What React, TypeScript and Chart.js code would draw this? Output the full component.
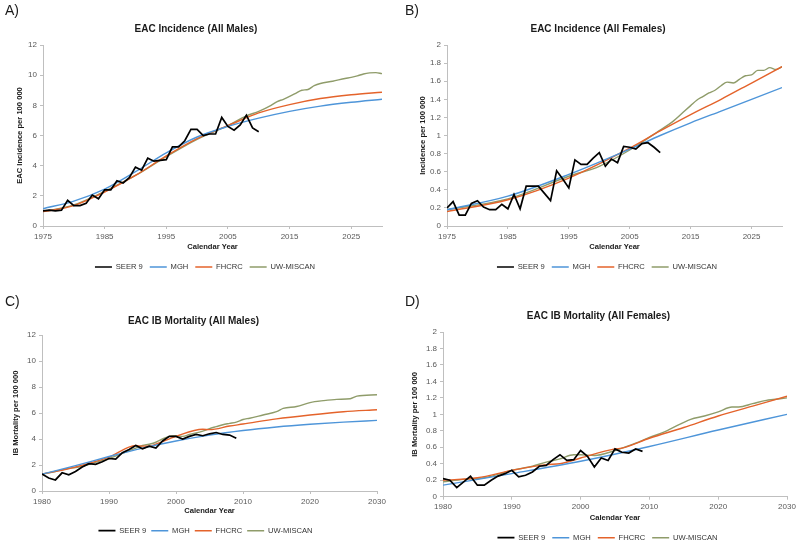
import React, { useEffect, useRef } from "react";
import { Chart, registerables } from "chart.js";

Chart.register(...registerables);

const FONT = "'Liberation Sans', Arial, Helvetica, sans-serif";
const SERIES_NAMES = ["SEER 9", "MGH", "FHCRC", "UW-MISCAN"];
const SERIES_COLORS = ["#000000", "#4e95d9", "#e4632b", "#8f9c6a"];
const X_TITLE = "Calendar Year";

// ---------- Panel A: EAC Incidence (All Males) ----------
const seerYearsA = [1975, 1976, 1977, 1978, 1979, 1980, 1981, 1982, 1983, 1984, 1985, 1986, 1987, 1988, 1989, 1990, 1991, 1992, 1993, 1994, 1995, 1996, 1997, 1998, 1999, 2000, 2001, 2002, 2003, 2004, 2005, 2006, 2007, 2008, 2009, 2010];
const seerA = [1.0, 1.05, 1.0, 1.05, 1.7, 1.35, 1.35, 1.5, 2.05, 1.8, 2.4, 2.4, 3.0, 2.85, 3.2, 3.9, 3.7, 4.5, 4.3, 4.35, 4.4, 5.25, 5.25, 5.65, 6.4, 6.4, 6.0, 6.1, 6.1, 7.2, 6.6, 6.35, 6.7, 7.35, 6.5, 6.25];
const mghYearsA = [1975, 1980, 1985, 1990, 1995, 2000, 2005, 2010, 2015, 2020, 2025, 2030];
const mghA = [1.15, 1.65, 2.45, 3.6, 4.85, 5.9, 6.6, 7.15, 7.6, 7.95, 8.2, 8.4];
const fhcrcYearsA = [1975, 1980, 1985, 1990, 1995, 2000, 2005, 2010, 2015, 2020, 2025, 2030];
const fhcrcA = [0.95, 1.35, 2.25, 3.35, 4.65, 5.8, 6.65, 7.5, 8.05, 8.45, 8.7, 8.87];
const uwYearsA = [1975, 1980, 1985, 1990, 1995, 2000, 2005, 2008, 2010, 2012, 2013, 2014, 2016, 2017, 2018, 2019, 2020, 2022, 2024, 2025, 2026, 2027, 2028, 2029, 2030];
const uwA = [0.95, 1.4, 2.3, 3.35, 4.6, 5.75, 6.65, 7.3, 7.6, 8.0, 8.25, 8.4, 8.8, 9.0, 9.05, 9.3, 9.45, 9.6, 9.78, 9.85, 9.95, 10.08, 10.15, 10.17, 10.1];

// ---------- Panel B: EAC Incidence (All Females) ----------
const seerYearsB = [1975, 1976, 1977, 1978, 1979, 1980, 1981, 1982, 1983, 1984, 1985, 1986, 1987, 1988, 1989, 1990, 1991, 1992, 1993, 1994, 1995, 1996, 1997, 1998, 1999, 2000, 2001, 2002, 2003, 2004, 2005, 2006, 2007, 2008, 2009, 2010];
const seerB = [0.2, 0.27, 0.12, 0.12, 0.25, 0.28, 0.21, 0.18, 0.18, 0.24, 0.19, 0.35, 0.19, 0.44, 0.44, 0.44, 0.36, 0.28, 0.61, 0.52, 0.42, 0.73, 0.68, 0.68, 0.75, 0.81, 0.66, 0.74, 0.7, 0.88, 0.87, 0.85, 0.91, 0.92, 0.87, 0.81];
const mghYearsB = [1975, 1985, 1995, 2005, 2010, 2015, 2020, 2025, 2030];
const mghB = [0.18, 0.33, 0.57, 0.85, 1.0, 1.14, 1.27, 1.4, 1.53];
const fhcrcYearsB = [1975, 1985, 1995, 2005, 2010, 2015, 2020, 2025, 2030];
const fhcrcB = [0.16, 0.29, 0.53, 0.86, 1.05, 1.23, 1.4, 1.58, 1.76];
const uwYearsB = [1975, 1985, 1995, 2000, 2005, 2010, 2012, 2014, 2015, 2016, 2017, 2018, 2019, 2020, 2021, 2022, 2023, 2024, 2025, 2026, 2027, 2028, 2029, 2030];
const uwB = [0.18, 0.3, 0.55, 0.66, 0.84, 1.06, 1.15, 1.27, 1.33, 1.39, 1.43, 1.47, 1.5, 1.55, 1.59, 1.58, 1.62, 1.66, 1.67, 1.72, 1.72, 1.75, 1.73, 1.76];

// ---------- Panel C: EAC IB Mortality (All Males) ----------
const seerYearsC = [1980, 1981, 1982, 1983, 1984, 1985, 1986, 1987, 1988, 1989, 1990, 1991, 1992, 1993, 1994, 1995, 1996, 1997, 1998, 1999, 2000, 2001, 2002, 2003, 2004, 2005, 2006, 2007, 2008, 2009];
const seerC = [1.3, 1.0, 0.85, 1.4, 1.25, 1.5, 1.85, 2.1, 2.05, 2.25, 2.5, 2.45, 2.95, 3.2, 3.5, 3.25, 3.45, 3.3, 3.85, 4.2, 4.2, 4.0, 4.2, 4.35, 4.25, 4.4, 4.5, 4.35, 4.3, 4.05];
const mghYearsC = [1980, 1985, 1990, 1995, 2000, 2005, 2010, 2015, 2020, 2025, 2030];
const mghC = [1.3, 1.95, 2.65, 3.3, 3.85, 4.3, 4.65, 4.92, 5.13, 5.3, 5.43];
const fhcrcYearsC = [1980, 1985, 1990, 1994, 1995, 1996, 1997, 2000, 2004, 2005, 2008, 2010, 2015, 2020, 2025, 2030];
const fhcrcC = [1.3, 1.85, 2.6, 3.5, 3.45, 3.45, 3.6, 4.2, 4.75, 4.72, 5.0, 5.15, 5.55, 5.85, 6.1, 6.25];
const uwYearsC = [1980, 1982, 1984, 1985, 1986, 1988, 1990, 1992, 1994, 1995, 1996, 1997, 1998, 1999, 2000, 2001, 2002, 2004, 2005, 2006, 2007, 2008, 2009, 2010, 2011, 2013, 2015, 2016, 2018, 2020, 2022, 2024, 2026, 2027, 2030];
const uwC = [1.3, 1.5, 1.75, 1.8, 1.9, 2.2, 2.5, 2.9, 3.3, 3.5, 3.6, 3.75, 4.0, 4.2, 4.25, 4.2, 4.35, 4.6, 4.8, 4.95, 5.1, 5.2, 5.3, 5.5, 5.6, 5.85, 6.1, 6.35, 6.5, 6.8, 6.95, 7.05, 7.1, 7.3, 7.4];

// ---------- Panel D: EAC IB Mortality (All Females) ----------
const seerYearsD = [1980, 1981, 1982, 1983, 1984, 1985, 1986, 1987, 1988, 1989, 1990, 1991, 1992, 1993, 1994, 1995, 1996, 1997, 1998, 1999, 2000, 2001, 2002, 2003, 2004, 2005, 2006, 2007, 2008, 2009];
const seerD = [0.22, 0.2, 0.11, 0.18, 0.25, 0.14, 0.14, 0.2, 0.25, 0.28, 0.32, 0.24, 0.26, 0.3, 0.37, 0.38, 0.45, 0.51, 0.44, 0.45, 0.56, 0.49, 0.36, 0.47, 0.44, 0.58, 0.54, 0.53, 0.58, 0.55];
const mghYearsD = [1980, 1990, 2000, 2010, 2020, 2030];
const mghD = [0.14, 0.28, 0.43, 0.61, 0.81, 1.0];
const fhcrcYearsD = [1980, 1985, 1990, 1995, 1997, 2000, 2005, 2006, 2010, 2015, 2020, 2025, 2030];
const fhcrcD = [0.2, 0.23, 0.32, 0.39, 0.4, 0.47, 0.58, 0.59, 0.71, 0.84, 0.98, 1.1, 1.22];
const uwYearsD = [1980, 1983, 1986, 1990, 1993, 1995, 1997, 1999, 2000, 2002, 2005, 2007, 2008, 2010, 2012, 2013, 2016, 2018, 2020, 2022, 2023, 2025, 2027, 2028, 2030];
const uwD = [0.18, 0.21, 0.23, 0.32, 0.37, 0.42, 0.46, 0.51, 0.51, 0.5, 0.56, 0.62, 0.65, 0.72, 0.78, 0.82, 0.94, 0.98, 1.03, 1.09, 1.09, 1.13, 1.17, 1.18, 1.2];

// ---------- Axis ticks ----------
const xTicksAB = [1975, 1985, 1995, 2005, 2015, 2025];
const xTicksCD = [1980, 1990, 2000, 2010, 2020, 2030];

type Series = { years: number[]; values: number[] };
type Layout = {
  padLeft: number;
  padRight: number;
  padBottom: number;
  titleTop: number;
  titleBottom: number;
  yWidth: number;
  yTitlePad: number;
  xHeight: number;
  xTitlePadBottom: number;
  legPad: number;
  legShift: number;
};
type PanelProps = {
  left: number;
  top: number;
  label: string;
  labelTop: number;
  title: string;
  yTitle: string;
  series: Series[];
  xMin: number;
  xMax: number;
  xTicks: number[];
  yMax: number;
  yStep: number;
  lay: Layout;
};

const toXY = (s: Series) => s.years.map((y, i) => ({ x: y, y: s.values[i] }));

function Panel(p: PanelProps) {
  const ref = useRef<HTMLCanvasElement | null>(null);
  useEffect(() => {
    if (!ref.current) return;
    const tickFont = { family: FONT, size: 8 };
    const titleFont = { family: FONT, size: 7.6, weight: "bold" as const };
    const axisColor = "#bfbfbf";
    const shiftLegend = {
      id: "shiftLegend",
      afterLayout(chart: any) {
        const lg = chart.legend;
        if (lg) {
          lg.left += p.lay.legShift;
          lg.right += p.lay.legShift;
        }
      },
    };
    const chart = new Chart(ref.current, {
      type: "line",
      data: {
        datasets: p.series.map((s, i) => ({
          label: SERIES_NAMES[i],
          data: toXY(s),
          borderColor: SERIES_COLORS[i],
          backgroundColor: SERIES_COLORS[i],
          borderWidth: i === 0 ? 1.7 : 1.4,
          pointRadius: 0,
          pointStyle: "line",
          tension: 0,
          cubicInterpolationMode: i === 0 ? "default" : "monotone",
        })),
      },
      options: {
        responsive: false,
        animation: false,
        events: [],
        layout: {
          padding: { left: p.lay.padLeft, right: p.lay.padRight, top: 0, bottom: p.lay.padBottom },
        },
        plugins: {
          title: {
            display: true,
            text: p.title,
            color: "#1a1a1a",
            font: { family: FONT, size: 10, weight: "bold" },
            padding: { top: p.lay.titleTop, bottom: p.lay.titleBottom },
          },
          legend: {
            position: "bottom",
            labels: {
              usePointStyle: true,
              pointStyleWidth: 17,
              boxHeight: 7,
              padding: p.lay.legPad,
              color: "#333333",
              font: { family: FONT, size: 7.6 },
            },
          },
          tooltip: { enabled: false },
        },
        scales: {
          x: {
            type: "linear",
            min: p.xMin,
            max: p.xMax,
            afterBuildTicks: (s: any) => {
              s.ticks = p.xTicks.map((v) => ({ value: v }));
            },
            afterFit: (s: any) => {
              s.height = p.lay.xHeight;
            },
            grid: { drawOnChartArea: false, drawTicks: true, tickLength: 3, color: axisColor },
            border: { color: axisColor, width: 1 },
            ticks: {
              font: tickFont,
              color: "#595959",
              padding: 2.5,
              autoSkip: false,
              maxRotation: 0,
              callback: (v: any) => String(v),
            },
            title: {
              display: true,
              text: X_TITLE,
              color: "#1a1a1a",
              font: titleFont,
              padding: { top: 2, bottom: p.lay.xTitlePadBottom },
            },
          },
          y: {
            type: "linear",
            min: 0,
            max: p.yMax,
            afterFit: (s: any) => {
              s.width = p.lay.yWidth;
            },
            grid: { drawOnChartArea: false, drawTicks: true, tickLength: 3, color: axisColor },
            border: { color: axisColor, width: 1 },
            ticks: {
              stepSize: p.yStep,
              font: tickFont,
              color: "#595959",
              padding: 3,
              callback: (v: any) => String(Math.round(Number(v) * 10) / 10),
            },
            title: {
              display: true,
              text: p.yTitle,
              color: "#1a1a1a",
              font: titleFont,
              padding: { top: p.lay.yTitlePad, bottom: 2 },
            },
          },
        },
      },
      plugins: [shiftLegend],
    });
    return () => chart.destroy();
  }, []);

  return (
    <div style={{ position: "absolute", left: p.left, top: p.top, width: 400, height: 274 }}>
      <canvas ref={ref} width={400} height={274} style={{ width: 400, height: 274, display: "block" }} />
      <div
        style={{
          position: "absolute",
          left: 5,
          top: p.labelTop,
          fontFamily: FONT,
          fontSize: 14,
          lineHeight: "14px",
          color: "#1a1a1a",
        }}
      >
        {p.label}
      </div>
    </div>
  );
}

export default function App() {
  return (
    <div style={{ position: "absolute", left: 0, top: 0, width: 800, height: 548, background: "#ffffff", overflow: "hidden" }}>
      <Panel
        left={0}
        top={0}
        label="A)"
        labelTop={3}
        title="EAC Incidence (All Males)"
        yTitle="EAC Incidence per 100 000"
        series={[
          { years: seerYearsA, values: seerA },
          { years: mghYearsA, values: mghA },
          { years: fhcrcYearsA, values: fhcrcA },
          { years: uwYearsA, values: uwA },
        ]}
        xMin={1975}
        xMax={2030}
        xTicks={xTicksAB}
        yMax={12}
        yStep={2}
        lay={{ padLeft: 10, padRight: 18, padBottom: -6.8, titleTop: 23, titleBottom: 10, yWidth: 33, yTitlePad: 5.5, xHeight: 30.2, xTitlePadBottom: 5.0, legPad: 7, legShift: 9 }}
      />
      <Panel
        left={400}
        top={0}
        label="B)"
        labelTop={3}
        title="EAC Incidence (All Females)"
        yTitle="Incidence per 100 000"
        series={[
          { years: seerYearsB, values: seerB },
          { years: mghYearsB, values: mghB },
          { years: fhcrcYearsB, values: fhcrcB },
          { years: uwYearsB, values: uwB },
        ]}
        xMin={1975}
        xMax={2030}
        xTicks={xTicksAB}
        yMax={2}
        yStep={0.2}
        lay={{ padLeft: 14, padRight: 18, padBottom: -6.8, titleTop: 23, titleBottom: 10, yWidth: 33, yTitlePad: 4, xHeight: 30.2, xTitlePadBottom: 5.0, legPad: 7, legShift: 9 }}
      />
      <Panel
        left={0}
        top={274}
        label="C)"
        labelTop={20}
        title="EAC IB Mortality (All Males)"
        yTitle="IB Mortality per 100 000"
        series={[
          { years: seerYearsC, values: seerC },
          { years: mghYearsC, values: mghC },
          { years: fhcrcYearsC, values: fhcrcC },
          { years: uwYearsC, values: uwC },
        ]}
        xMin={1980}
        xMax={2030}
        xTicks={xTicksCD}
        yMax={12}
        yStep={2}
        lay={{ padLeft: 10, padRight: 23, padBottom: 3.5, titleTop: 41, titleBottom: 8, yWidth: 32, yTitlePad: 1.4, xHeight: 30.9, xTitlePadBottom: 6.5, legPad: 5, legShift: 12 }}
      />
      <Panel
        left={400}
        top={274}
        label="D)"
        labelTop={20}
        title="EAC IB Mortality (All Females)"
        yTitle="IB Mortality per 100 000"
        series={[
          { years: seerYearsD, values: seerD },
          { years: mghYearsD, values: mghD },
          { years: fhcrcYearsD, values: fhcrcD },
          { years: uwYearsD, values: uwD },
        ]}
        xMin={1980}
        xMax={2030}
        xTicks={xTicksCD}
        yMax={2}
        yStep={0.2}
        lay={{ padLeft: 10, padRight: 13, padBottom: -3.5, titleTop: 36, titleBottom: 10, yWidth: 33, yTitlePad: 0.4, xHeight: 30.2, xTitlePadBottom: 4.0, legPad: 7, legShift: 9 }}
      />
    </div>
  );
}
